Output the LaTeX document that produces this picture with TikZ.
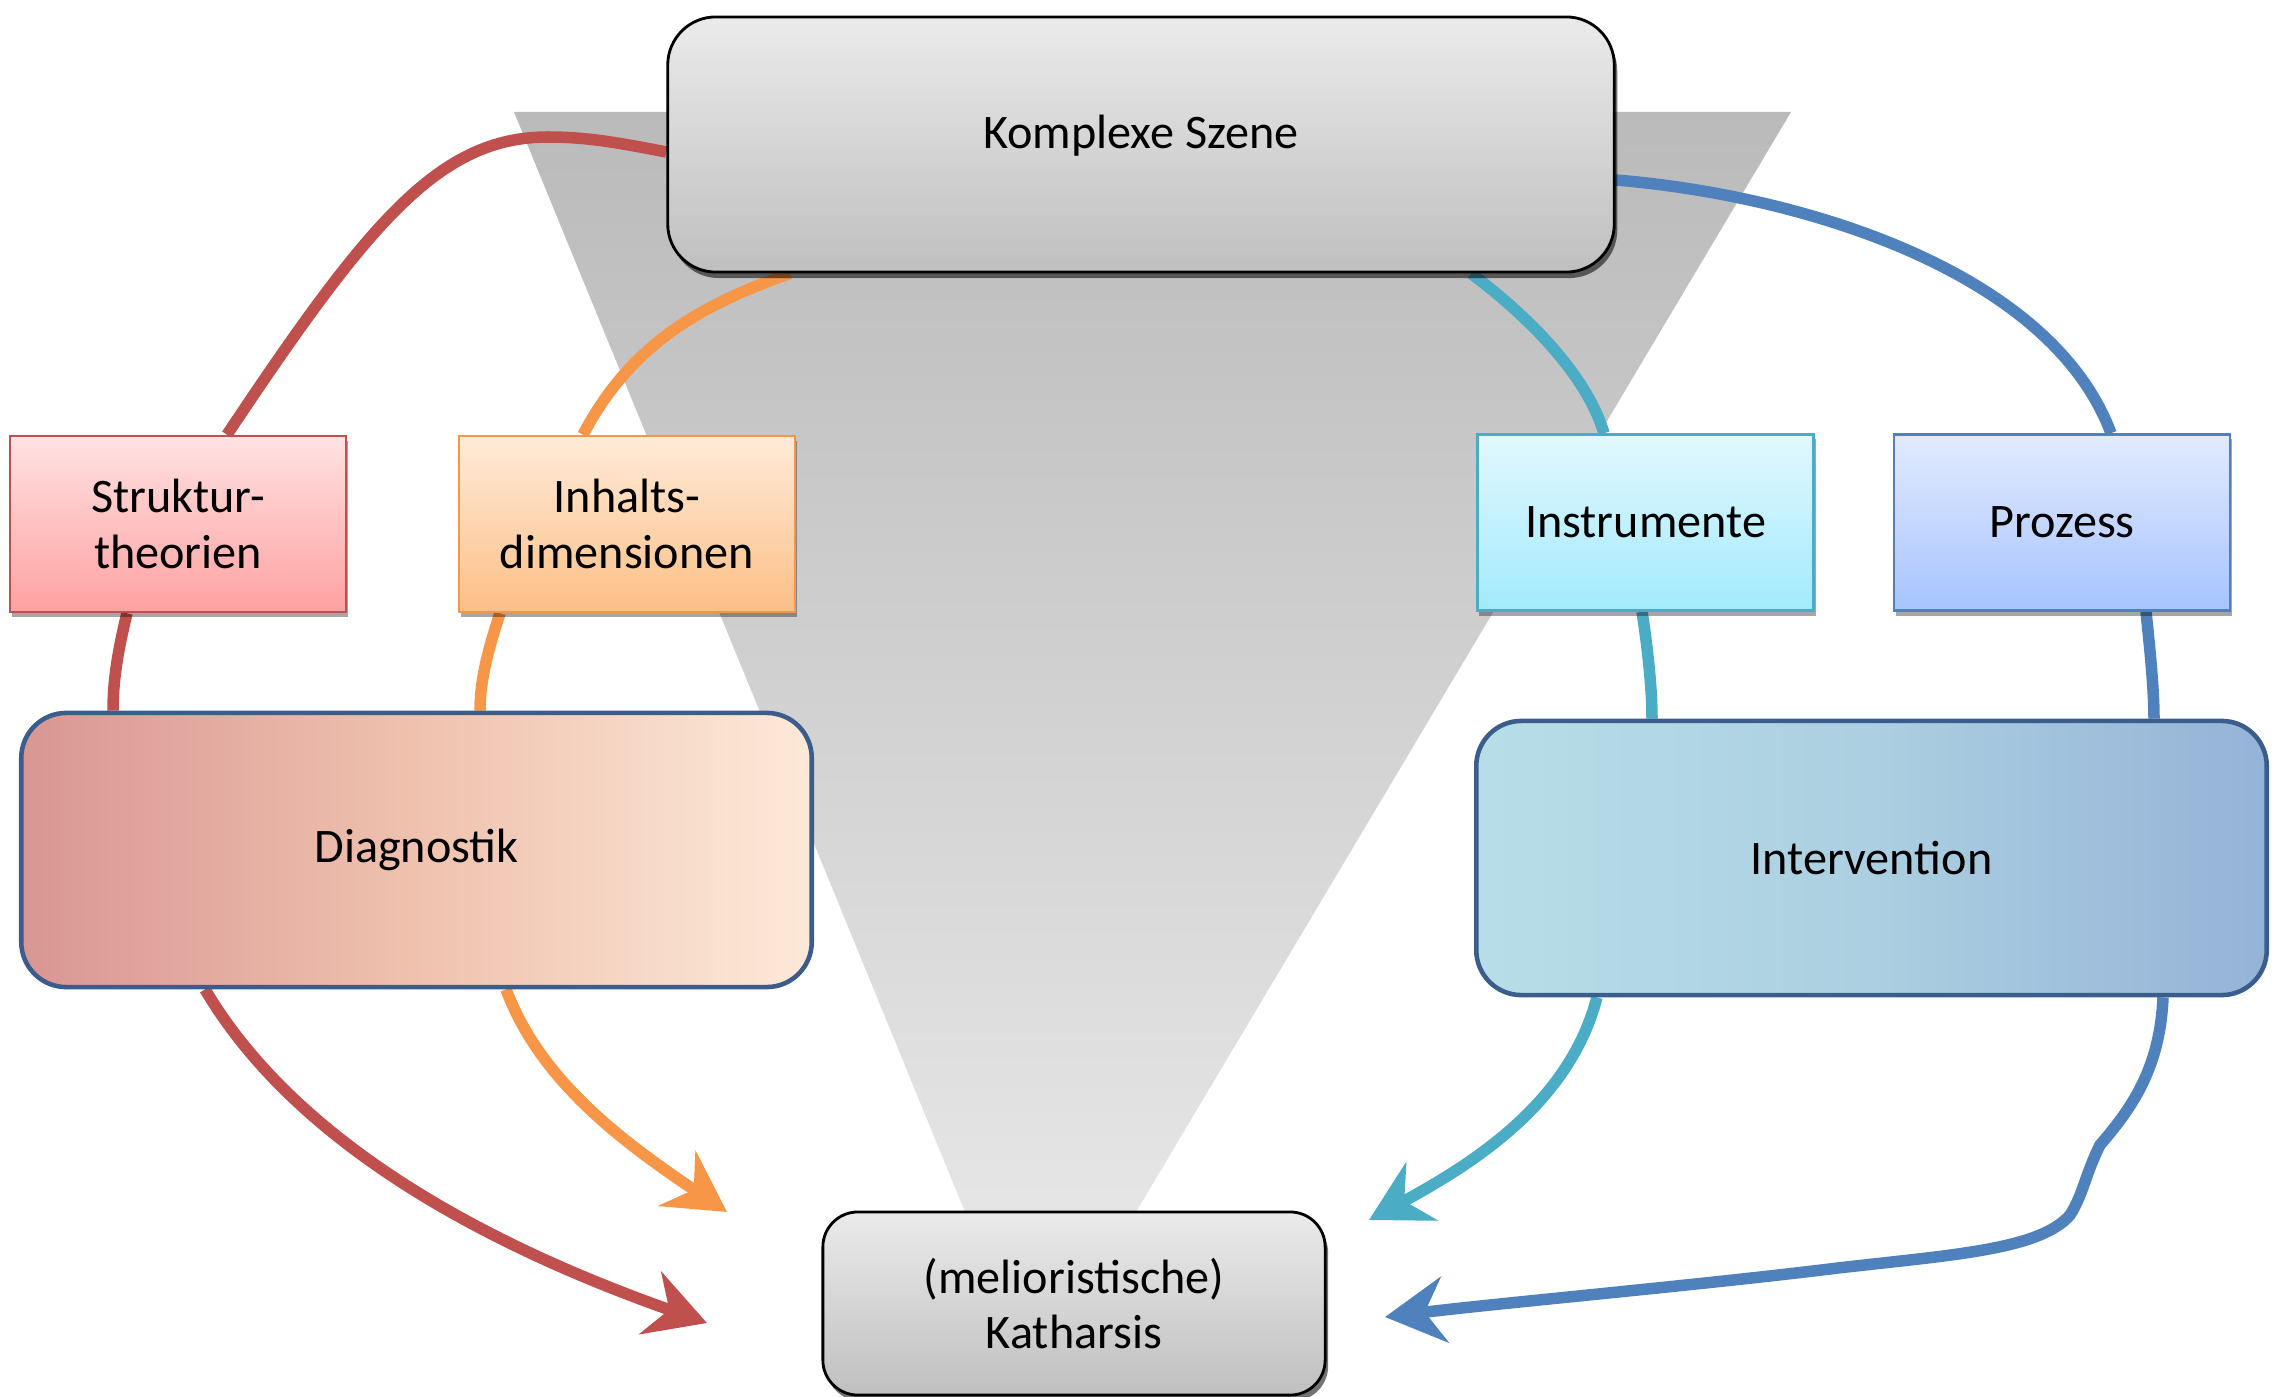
\documentclass[tikz,border=0pt]{standalone}
\usepackage{fontspec}
\setmainfont{Carlito}
\usetikzlibrary{arrows.meta,shadows,calc}

\definecolor{cRed}{HTML}{C0504D}
\definecolor{cOrange}{HTML}{F79646}
\definecolor{cTeal}{HTML}{4BACC6}
\definecolor{cBlue}{HTML}{4F81BD}
\definecolor{cFrame}{HTML}{3B5D8C}
\definecolor{redTop}{HTML}{FFE2E2}
\definecolor{redBot}{HTML}{FFA1A1}
\definecolor{oraTop}{HTML}{FFEBD9}
\definecolor{oraBot}{HTML}{FCBF86}
\definecolor{tealTop}{HTML}{E2F8FF}
\definecolor{tealBot}{HTML}{A2EAFD}
\definecolor{blueTop}{HTML}{E2EAFF}
\definecolor{blueBot}{HTML}{A6C4FF}

\pgfdeclarelayer{bg}
\pgfdeclarelayer{wires}
\pgfsetlayers{bg,wires,main}

\begin{document}
\begin{tikzpicture}[x=0.01cm,y=-0.01cm,
  txt/.style={font=\fontsize{13.7}{15.8}\selectfont, align=center},
  greybox/.style={txt, draw=black, line width=0.8pt, inner sep=0pt,
    top color=white!92!black, bottom color=white!75!black,
    drop shadow={shadow xshift=0.03cm, shadow yshift=-0.06cm, fill=black, opacity=0.55}},
  tagbox/.style={txt, line width=0.7pt, inner sep=0pt,
    minimum width=3.36cm, minimum height=1.76cm,
    drop shadow={shadow xshift=0.02cm, shadow yshift=-0.05cm, fill=black, opacity=0.35}},
  bigbox/.style={txt, draw=cFrame, line width=1.3pt, inner sep=0pt,
    rounded corners=0.45cm, minimum width=7.9cm, minimum height=2.74cm},
  wire/.style={line width=0.115cm},
  tip/.style={-{Stealth[length=0.6cm, width=0.66cm, inset=0.2cm]}}
]
\useasboundingbox (0,0) rectangle (2272,1397);

% funnel behind everything
\begin{pgfonlayer}{bg}
  \path[top color=white!73!black, bottom color=white!90!black]
    (514,112) -- (1791,112) -- (1136,1212) -- (965,1212) -- cycle;
\end{pgfonlayer}

% boxes
\node[greybox, rounded corners=0.48cm, minimum width=9.46cm, minimum height=2.55cm] (top) at (1141,144.5) {};
\node[txt] (toplabel) at (1141,136) {Komplexe Szene};
\node[greybox, rounded corners=0.35cm, minimum width=5.02cm, minimum height=1.83cm] (kath) at (1074,1303.5) {(melioristische)\\Katharsis};

\node[tagbox, draw=cRed, top color=redTop, bottom color=redBot] (strukt) at (178,524) {Struktur-\\theorien};
\node[tagbox, draw=cOrange, top color=oraTop, bottom color=oraBot] (inh) at (627,524) {Inhalts-\\dimensionen};
\node[tagbox, draw=cTeal, top color=tealTop, bottom color=tealBot] (instr) at (1645.5,522.5) {Instrumente};
\node[tagbox, draw=cBlue, top color=blueTop, bottom color=blueBot] (proz) at (2062,522.5) {Prozess};

\node[bigbox, left color={rgb,255:red,217;green,150;blue,148}, right color={rgb,255:red,253;green,233;blue,217}, middle color={rgb,255:red,239;green,194;blue,174}] (diag) at (416.5,850) {Diagnostik};
\node[bigbox, left color={rgb,255:red,183;green,222;blue,232}, right color={rgb,255:red,149;green,179;blue,215}, middle color={rgb,255:red,172;green,207;blue,225}] (interv) at (1871.5,858) {Intervention};

% free ends of the arrows
\coordinate (redtip) at (707,1323);
\coordinate (orangetip) at (727,1212);
\coordinate (tealtip) at (1369,1220);
\coordinate (bluetip) at (1385,1317);

\begin{pgfonlayer}{wires}
  % Strukturtheorien strand
  \draw[wire, cRed] (top.west |- 0,152) .. controls (615,142) and (585,137) .. (548,137)
    .. controls (440,137) and (370,220) .. (227,0 |- strukt.north);
  \draw[wire, cRed] (127,0 |- strukt.south) .. controls (118,650) and (113,680) .. (113,0 |- diag.north);
  \draw[wire, cRed, tip] (205,0 |- diag.south) .. controls (300,1150) and (500,1250) .. (redtip);

  % Inhaltsdimensionen strand
  \draw[wire, cOrange] (790,0 |- top.south) .. controls (700,305) and (630,345) .. (583,0 |- inh.north);
  \draw[wire, cOrange] (500,0 |- inh.south) .. controls (488,650) and (480,680) .. (480,0 |- diag.north);
  \draw[wire, cOrange, tip] (506,0 |- diag.south) .. controls (540,1080) and (620,1140) .. (orangetip);

  % Instrumente strand
  \draw[wire, cTeal] (1471,0 |- top.south) .. controls (1520,310) and (1585,370) .. (1604,0 |- instr.north);
  \draw[wire, cTeal] (1642,0 |- instr.south) .. controls (1648,650) and (1652,690) .. (1652,0 |- interv.north);
  \draw[wire, cTeal, tip] (1597,0 |- interv.south) .. controls (1570,1100) and (1480,1160) .. (tealtip);

  % Prozess strand
  \draw[wire, cBlue] (top.east |- 0,180) .. controls (1800,195) and (2050,270) .. (2111,0 |- proz.north);
  \draw[wire, cBlue] (2146,0 |- proz.south) .. controls (2150,650) and (2154,690) .. (2154,0 |- interv.north);
  \draw[wire, cBlue, tip] (2163,0 |- interv.south) .. controls (2160,1070) and (2130,1110) .. (2100,1145)
    .. controls (2085,1175) and (2083,1195) .. (2070,1215)
    .. controls (2040,1250) and (1950,1255) .. (1838,1268)
    .. controls (1700,1285) and (1500,1303) .. (bluetip);
\end{pgfonlayer}
\end{tikzpicture}
\end{document}
